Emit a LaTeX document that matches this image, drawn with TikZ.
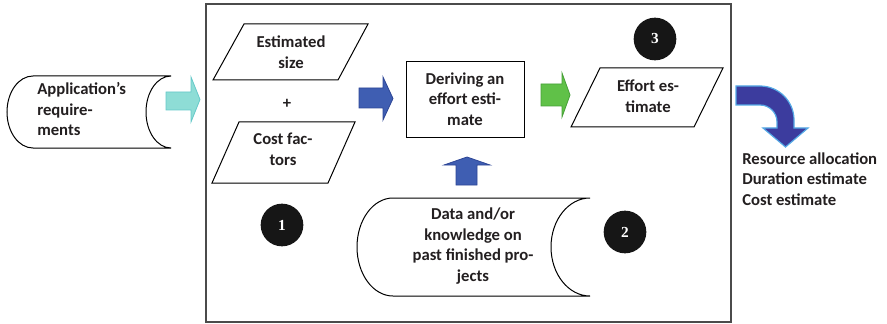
\documentclass[tikz,border=0pt]{standalone}
\usepackage{fontspec}
\setmainfont{Carlito}
\newfontfamily\numfont{Liberation Serif}
\definecolor{textcol}{RGB}{35,31,32}
\definecolor{framecol}{RGB}{75,75,75}
\definecolor{dotcol}{RGB}{22,22,22}
\definecolor{cyanfill}{RGB}{142,221,214}
\definecolor{cyanedge}{RGB}{100,200,200}
\definecolor{bluefill}{RGB}{63,94,178}
\definecolor{blueedge}{RGB}{45,70,150}
\definecolor{greenfill}{RGB}{96,193,72}
\definecolor{greenedge}{RGB}{70,160,55}
\definecolor{indigofill}{RGB}{60,60,158}
\definecolor{indigoedge}{RGB}{85,170,230}
\begin{document}
\begin{tikzpicture}[x=0.75pt,y=-0.75pt,
  outline/.style={draw=black, line width=0.75pt, fill=white},
  lbl/.style={font=\bfseries\fontsize{12.5}{15.5}\selectfont, text=textcol, align=center, inner sep=0pt},
  numdot/.style={circle, fill=dotcol, minimum size=32pt, inner sep=0pt, text=white,
    font=\numfont\bfseries\fontsize{11.5}{11.5}\selectfont},
  procbox/.style={draw=black, line width=0.65pt, fill=white, minimum width=88.5pt, minimum height=57pt},
  cyanarrow/.style={fill=cyanfill, draw=cyanedge, line width=0.6pt},
  bluearrow/.style={fill=bluefill, draw=blueedge, line width=0.6pt},
  greenarrow/.style={fill=greenfill, draw=greenedge, line width=0.6pt},
  bentarrow/.style={fill=indigofill, draw=indigoedge, line width=0.9pt}]
\useasboundingbox (0,0) rectangle (887,324);

% enclosing frame
\draw[framecol, line width=1.2pt] (206,4) rectangle (731,322);

% stored-data shape: application requirements
\draw[outline] (33,76) -- (171,76)
  .. controls (157.2,76) and (146,92.1) .. (146,112)
  .. controls (146,131.9) and (157.2,148) .. (171,148)
  -- (33,148)
  .. controls (18.6,148) and (7,131.9) .. (7,112)
  .. controls (7,92.1) and (18.6,76) .. (33,76) -- cycle;
\node[lbl, align=left, anchor=west] (req) at (37,109) {Application’s\\require-\\ments};

% input arrow
\draw[cyanarrow] (166,92) -- (191,92) -- (191,77) -- (200,99.5) -- (191,122) -- (191,110) -- (166,110) -- cycle;

% inputs: estimated size + cost factors
\draw[outline] (244,24) -- (368,24) -- (338,80) -- (213,80) -- cycle;
\node[lbl] (size) at (291,52) {Estimated\\size};
\node[lbl] (plus) at (287,104) {+};
\draw[outline] (239,122) -- (355,122) -- (328,183) -- (212,183) -- cycle;
\node[lbl] (cost) at (283,149) {Cost fac-\\tors};

\draw[bluearrow] (359,88) -- (383,88) -- (383,77) -- (393,98.5) -- (383,120) -- (383,108) -- (359,108) -- cycle;

% process box
\node[procbox, lbl] (derive) at (465,99) {Deriving an\\effort esti-\\mate};

% historical data
\draw[bluearrow] (456,185) -- (456,165) -- (444,165) -- (467,157) -- (490,165) -- (477,165) -- (477,185) -- cycle;
\draw[outline] (393,198) -- (590,198)
  .. controls (568.5,198) and (551,219.9) .. (551,247)
  .. controls (551,274.1) and (568.5,296) .. (590,296)
  -- (393,296)
  .. controls (373.1,296) and (357,274.1) .. (357,247)
  .. controls (357,219.9) and (373.1,198) .. (393,198) -- cycle;
\node[lbl] (past) at (473,246) {Data and/or\\knowledge on\\past finished pro-\\jects};

% output
\draw[greenarrow] (541,84) -- (562,84) -- (562,73) -- (570,95) -- (562,117) -- (562,106) -- (541,106) -- cycle;
\draw[outline] (600,68) -- (723,68) -- (694,127) -- (571,127) -- cycle;
\node[lbl] (effort) at (648,96) {Effort es-\\timate};

% numbered markers
\node[numdot] (n1) at (282,225) {1};
\node[numdot] (n2) at (625,232) {2};
\node[numdot] (n3) at (655,39) {3};

% bent arrow to the uses of the estimate
\draw[bentarrow] (736,86) -- (760,86)
  .. controls (778.8,86) and (794,101.2) .. (794,120)
  -- (794,128) -- (808,128) -- (785.5,147) -- (763,128) -- (777,128) -- (777,122)
  .. controls (777,112.6) and (769.4,105) .. (760,105)
  -- (736,105) -- cycle;
\node[lbl, align=left, anchor=west] (uses) at (742,179) {Resource allocation\\Duration estimate\\Cost estimate};
\end{tikzpicture}
\end{document}
